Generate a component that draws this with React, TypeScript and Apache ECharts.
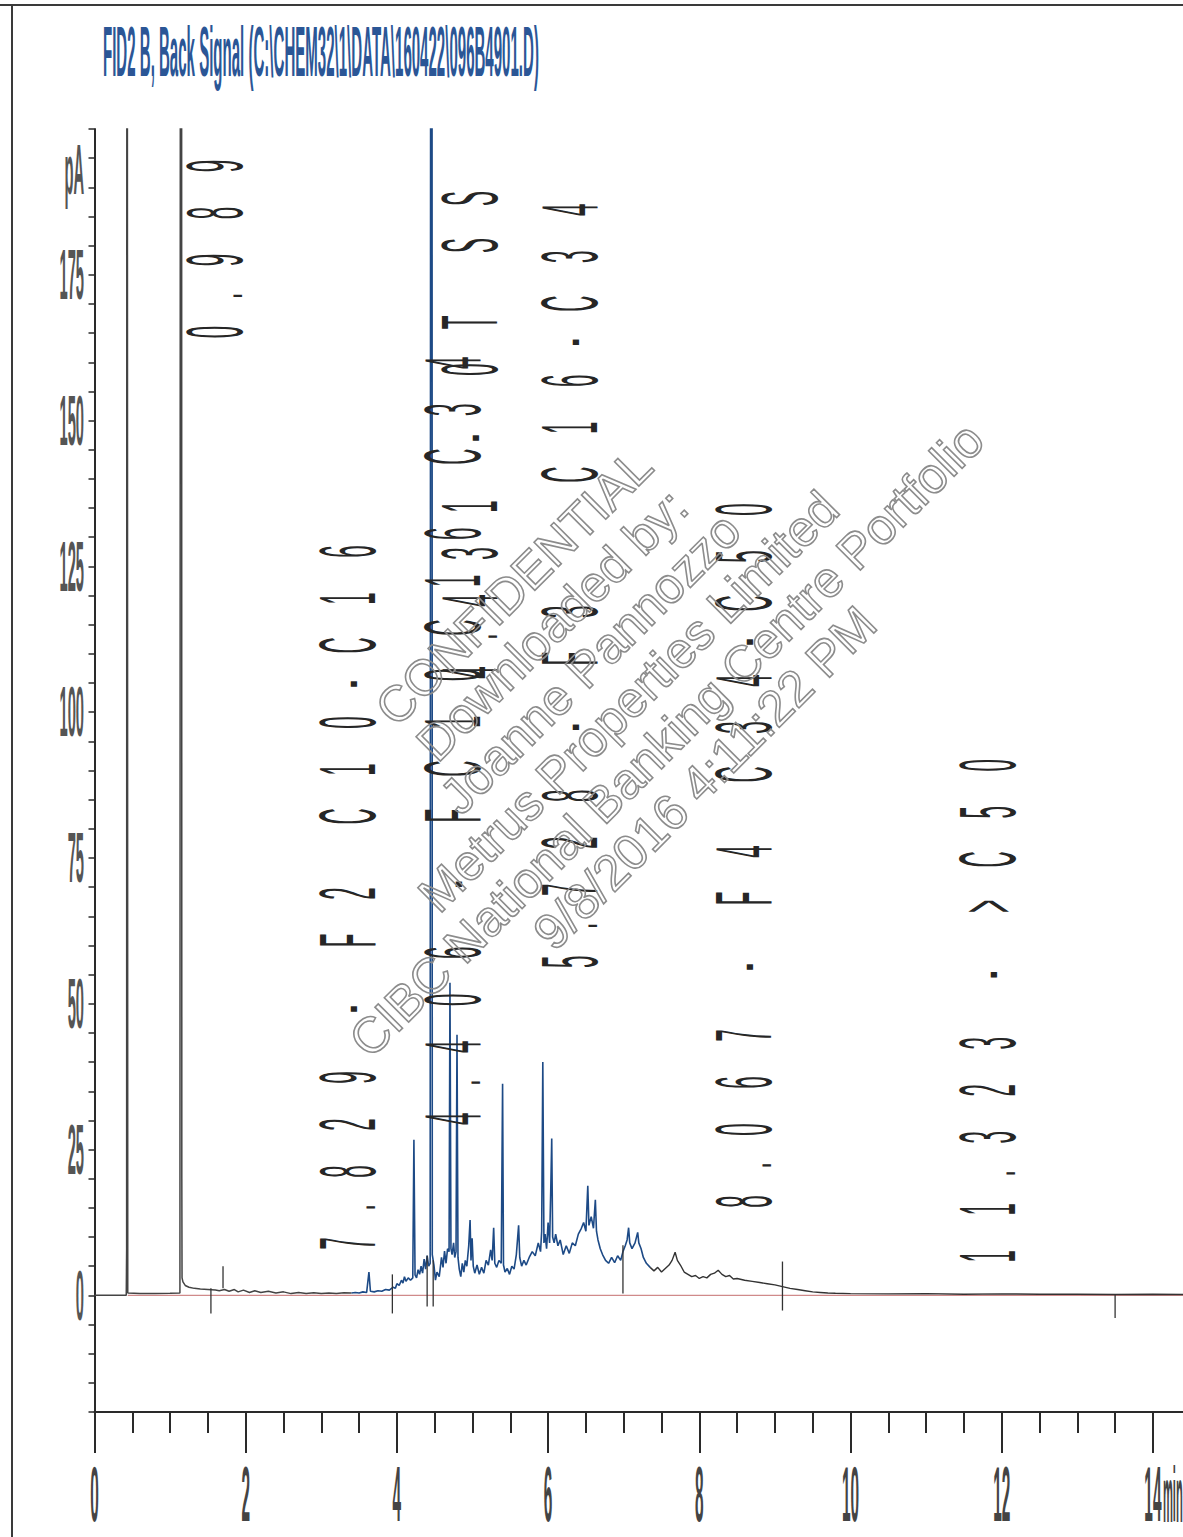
import React, { useEffect, useRef } from 'react';
import * as echarts from 'echarts';

const W = 1183;
const H = 1537;

const titleText = 'FID2 B, Back Signal (C:\\CHEM32\\1\\DATA\\160422\\096B4901.D)';

const yTickValues = [0, 25, 50, 75, 100, 125, 150, 175];
const yTickLabels = ['0', '25', '50', '75', '100', '125', '150', '175'];
const yUnitValue = 193;
const yUnitLabel = 'pA';
const xTickValues = [0, 2, 4, 6, 8, 10, 12, 14];
const xTickLabels = ['0', '2', '4', '6', '8', '10', '12', '14'];
const xUnitLabel = 'min';

// trace, min / pA
const traceEarly = [
  [0, 0], [0.42, 0], [0.425, 8], [0.43, 420], [0.436, 420], [0.44, 0.4],
  [0.6, 0.3], [0.8, 0.3], [1.0, 0.35], [1.13, 0.4], [1.14, 420], [1.15, 420],
  [1.155, 20], [1.158, 3.0], [1.17, 2.3], [1.2, 1.7], [1.25, 1.4], [1.32, 1.2],
  [1.4, 1.1], [1.5, 1.0], [1.6, 0.9], [1.65, 0.8], [1.72, 1.0], [1.78, 0.7],
  [1.85, 1.0], [1.9, 0.6], [1.97, 0.9], [2.05, 0.5], [2.12, 0.8], [2.2, 0.5],
  [2.3, 0.7], [2.4, 0.4], [2.5, 0.6], [2.6, 0.3], [2.7, 0.5], [2.8, 0.3],
  [2.9, 0.45], [3.0, 0.3], [3.1, 0.4], [3.2, 0.3], [3.3, 0.45], [3.4, 0.4]
];
const traceMid = [
  [3.4, 0.4], [3.45, 0.5], [3.5, 0.4], [3.55, 0.6], [3.6, 0.5], [3.63, 4.0],
  [3.65, 0.7], [3.7, 0.6], [3.75, 0.8], [3.8, 0.7], [3.85, 1.0], [3.9, 0.9],
  [3.95, 1.4], [3.98, 1.2], [4.0, 2.0], [4.03, 1.7], [4.06, 2.6], [4.08, 2.1],
  [4.1, 3.2], [4.12, 2.4], [4.15, 3.0], [4.18, 2.6], [4.21, 3.0], [4.225, 26.7],
  [4.24, 3.5], [4.26, 3.0], [4.28, 4.4], [4.3, 3.6], [4.32, 5.0], [4.34, 3.8],
  [4.36, 6.2], [4.38, 4.5], [4.4, 6.8], [4.42, 5.0], [4.44, 5.5], [4.452, 420],
  [4.462, 420], [4.468, 7.0], [4.49, 5.2], [4.51, 2.6], [4.53, 4.0], [4.56, 3.2],
  [4.59, 6.5], [4.61, 4.8], [4.63, 7.6], [4.65, 5.5], [4.67, 8.0], [4.69, 7.5],
  [4.702, 53.6], [4.715, 8.0], [4.73, 7.0], [4.75, 9.0], [4.765, 6.5], [4.782, 7.5],
  [4.795, 44.7], [4.808, 6.5], [4.825, 4.5], [4.845, 3.2], [4.865, 5.5], [4.885, 4.0],
  [4.905, 6.0], [4.925, 5.0], [4.95, 8.5], [4.968, 12.9], [4.98, 6.0], [4.995, 9.8],
  [5.01, 5.0], [5.03, 3.8], [5.06, 5.2], [5.09, 3.6], [5.12, 4.8], [5.15, 3.8],
  [5.18, 6.0], [5.21, 5.2], [5.24, 7.8], [5.26, 6.0], [5.28, 11.6], [5.295, 5.5],
  [5.32, 4.8], [5.35, 6.0], [5.38, 5.5], [5.398, 36.3], [5.41, 5.2], [5.43, 4.0],
  [5.46, 4.6], [5.49, 3.6], [5.52, 5.0], [5.55, 4.5], [5.58, 7.0], [5.61, 12.0],
  [5.625, 6.5], [5.65, 5.0], [5.68, 6.0], [5.71, 5.2], [5.75, 6.5], [5.79, 7.5],
  [5.83, 6.8], [5.87, 9.0], [5.9, 7.5], [5.915, 11.0], [5.93, 40.0], [5.945, 9.0],
  [5.96, 10.5], [5.98, 8.0], [6.0, 12.5], [6.02, 9.0], [6.035, 18.0], [6.048, 26.9],
  [6.06, 10.0], [6.08, 9.0], [6.1, 10.5], [6.13, 8.5], [6.16, 9.5], [6.2, 7.0],
  [6.24, 8.5], [6.28, 7.2], [6.32, 9.0], [6.36, 8.5], [6.4, 10.5], [6.44, 11.5],
  [6.47, 12.5], [6.5, 11.0], [6.525, 18.8], [6.54, 12.0], [6.57, 13.5], [6.6, 11.5],
  [6.625, 16.4], [6.64, 11.0], [6.66, 9.5], [6.69, 8.0], [6.72, 7.0], [6.76, 6.0],
  [6.8, 5.5], [6.84, 6.5], [6.88, 5.6], [6.92, 6.8], [6.96, 6.0], [6.99, 7.5],
  [7.02, 8.5], [7.045, 9.5], [7.065, 11.6], [7.08, 9.0], [7.11, 8.0], [7.15, 9.0],
  [7.185, 10.8], [7.2, 9.0], [7.23, 8.0], [7.26, 6.5], [7.3, 5.5], [7.35, 4.8]
];
const traceLate = [
  [7.35, 4.8], [7.4, 4.2], [7.45, 4.8], [7.5, 4.0], [7.55, 4.6], [7.6, 5.2],
  [7.64, 6.0], [7.68, 7.4], [7.71, 6.0], [7.75, 5.2], [7.8, 4.0], [7.85, 3.6],
  [7.9, 3.2], [7.95, 3.4], [8.0, 2.9], [8.05, 3.2], [8.1, 3.0], [8.15, 3.6],
  [8.2, 3.8], [8.25, 4.3], [8.3, 3.6], [8.35, 3.2], [8.4, 3.4], [8.45, 2.8],
  [8.5, 2.9], [8.6, 2.6], [8.7, 2.4], [8.8, 2.2], [8.9, 2.0], [9.0, 1.8],
  [9.1, 1.5], [9.2, 1.2], [9.3, 1.0], [9.4, 0.8], [9.5, 0.6], [9.6, 0.5],
  [9.7, 0.4], [9.8, 0.35], [10.0, 0.3], [10.5, 0.25], [11.0, 0.3], [11.5, 0.2],
  [12.0, 0.25], [12.5, 0.2], [13.0, 0.2], [13.5, 0.15], [14.0, 0.2], [14.4, 0.15]
];
const baselineStart = 0.44;
const baselineEnd = 16;

// integration tick marks: time, top, bottom (pA)
const eventTimes = [1.54, 1.7, 3.94, 4.4, 4.48, 6.99, 9.1, 13.5];
const eventTops = [1.2, 5.0, 3.6, 6.8, 6.0, 8.6, 5.8, 0.2];
const eventBottoms = [-3.1, 1.2, -3.1, -1.9, -1.9, 0.3, -2.6, -3.9];

// rotated peak / window annotations
const annoTexts = [
  '0.989',
  '7.829 - F2 C10-C16',
  '4.406 - FC10C16 C34',
  '4.431 - 0T SS',
  '5.728 - F3   C16-C34',
  '8.067 - F4 C34-C50',
  '11.323 - >C50'
];
const annoTimes = [1.2, 2.96, 4.345, 4.57, 5.89, 8.19, 11.42];
const annoStarts = [165.2, 8.9, 30.3, 106.8, 57.2, 16.1, 6.7];

const watermarkLines = [
  'CONFIDENTIAL',
  'Downloaded by:',
  'Joanne Pannozzo',
  'Metrus Properties Limited',
  'CIBC National Banking Centre Portfolio',
  '9/8/2016 4:11:22 PM'
];

function advanceOf(ch: string): number {
  if (ch === '.') return 25;
  if (ch === ' ') return 30;
  if (ch === '-') return 30;
  return 47;
}

function txtStyle(o: any) {
  const s: any = { ...o };
  if (o.align) s.textAlign = o.align;
  if (o.verticalAlign) s.textVerticalAlign = o.verticalAlign;
  return s;
}

export default function App() {
  const ref = useRef<HTMLDivElement>(null);
  useEffect(() => {
    if (!ref.current) return;
    const chart = echarts.init(ref.current, null, { renderer: 'svg', width: W, height: H });
    const option: any = {
      animation: false,
      backgroundColor: '#ffffff',
      grid: { left: 94.5, top: 129, width: 16 * 75.6, height: 1283, containLabel: false, outerBoundsMode: 'none' },
      xAxis: {
        type: 'value', min: 0, max: 16, interval: 2,
        axisLine: { show: true, onZero: false, lineStyle: { color: '#2a2a2a', width: 2 } },
        axisTick: { show: true, length: 41, lineStyle: { color: '#2a2a2a', width: 2 } },
        minorTick: { show: true, splitNumber: 4, length: 21, lineStyle: { color: '#2a2a2a', width: 2 } },
        axisLabel: { show: false },
        splitLine: { show: false }
      },
      yAxis: {
        type: 'value', min: -20, max: 200, interval: 5,
        axisLine: { show: true, onZero: false, lineStyle: { color: '#2a2a2a', width: 2 } },
        axisTick: { show: true, length: 6, lineStyle: { color: '#2a2a2a', width: 1.5 } },
        axisLabel: { show: false },
        splitLine: { show: false }
      },
      graphic: [
        { type: 'line', shape: { x1: 0, y1: 5, x2: W, y2: 5 }, style: { stroke: '#3a3a3a', lineWidth: 2 } },
        { type: 'line', shape: { x1: 12, y1: 5, x2: 12, y2: H }, style: { stroke: '#3a3a3a', lineWidth: 2 } },
        {
          type: 'text', x: 103, y: 52, scaleX: 0.215, scaleY: 1,
          style: txtStyle({ text: titleText, font: 'bold 70px "Liberation Sans"', fill: '#2b5696', align: 'left', verticalAlign: 'middle' })
        },
        {
          type: 'group', x: 609.5, y: 682.5, rotation: Math.PI / 4, z: 100,
          children: watermarkLines.map((t, i) => ({
            type: 'text', x: 0, y: (i - 2.5) * 54, z: 100,
            style: txtStyle({ text: t, font: '50px "Liberation Sans"', fill: 'rgba(255,255,255,0)', stroke: '#8c8c8c', lineWidth: 1.6, align: 'center', verticalAlign: 'middle' })
          }))
        }
      ],
      series: [
        {
          type: 'line', name: 'baseline', data: [[baselineStart, 0], [baselineEnd, 0]],
          showSymbol: false, symbol: 'none', lineStyle: { color: '#d08a8a', width: 1.2 }, z: 2
        },
        {
          type: 'line', name: 'early', data: traceEarly, showSymbol: false, symbol: 'none',
          lineStyle: { color: '#444444', width: 1.5 }, z: 3
        },
        {
          type: 'line', name: 'mid', data: traceMid, showSymbol: false, symbol: 'none',
          lineStyle: { color: '#1d4a86', width: 1.6 }, z: 3
        },
        {
          type: 'line', name: 'late', data: traceLate, showSymbol: false, symbol: 'none',
          lineStyle: { color: '#333333', width: 1.4 }, z: 3
        },
        {
          type: 'custom', name: 'events', clip: false, silent: true, z: 4,
          data: eventTimes.map((t, i) => [t, eventTops[i], eventBottoms[i]]),
          renderItem: (params: any, api: any) => {
            const a = api.coord([api.value(0), api.value(1)]);
            const b = api.coord([api.value(0), api.value(2)]);
            return { type: 'line', shape: { x1: a[0], y1: a[1], x2: b[0], y2: b[1] }, style: { stroke: '#333', lineWidth: 1.3 } };
          }
        },
        {
          type: 'custom', name: 'annotations', clip: false, silent: true, z: 5,
          data: annoTimes.map((t, i) => [t, annoStarts[i]]),
          renderItem: (params: any, api: any) => {
            const p = api.coord([api.value(0), api.value(1)]);
            const txt = annoTexts[params.dataIndex];
            const children: any[] = [];
            let y = p[1];
            let prevHalf = 0;
            for (let i = 0; i < txt.length; i++) {
              const ch = txt[i];
              const adv = advanceOf(ch);
              if (i > 0) y -= prevHalf + adv / 2;
              prevHalf = adv / 2;
              if (ch === ' ') continue;
              children.push({
                type: 'text', x: p[0] + 29, y, rotation: Math.PI / 2, scaleX: 0.28, scaleY: 1,
                style: txtStyle({ text: ch, font: '80px "Liberation Sans"', fill: '#262626', align: 'center', verticalAlign: 'middle' })
              });
            }
            return { type: 'group', children };
          }
        },
        {
          type: 'custom', name: 'yLabels', clip: false, silent: true, z: 5,
          data: yTickValues.map((v) => [0, v]),
          renderItem: (params: any, api: any) => {
            const p = api.coord([api.value(0), api.value(1)]);
            return {
              type: 'text', x: p[0] - 10.5, y: p[1], scaleX: 0.21, scaleY: 1,
              style: txtStyle({ text: yTickLabels[params.dataIndex], font: 'bold 70px "Liberation Sans"', fill: '#555555', align: 'right', verticalAlign: 'middle' })
            };
          }
        },
        {
          type: 'custom', name: 'yUnit', clip: false, silent: true, z: 5,
          data: [[0, yUnitValue]],
          renderItem: (params: any, api: any) => {
            const p = api.coord([api.value(0), api.value(1)]);
            return {
              type: 'text', x: p[0] - 10.5, y: p[1], scaleX: 0.21, scaleY: 1,
              style: txtStyle({ text: yUnitLabel, font: 'bold 70px "Liberation Sans"', fill: '#555555', align: 'right', verticalAlign: 'middle' })
            };
          }
        },
        {
          type: 'custom', name: 'xLabels', clip: false, silent: true, z: 5,
          data: xTickValues.map((v) => [v, -20]),
          renderItem: (params: any, api: any) => {
            const p = api.coord([api.value(0), api.value(1)]);
            const children: any[] = [{
              type: 'text', x: p[0], y: p[1] + 83, scaleX: 0.2, scaleY: 1,
              style: txtStyle({ text: xTickLabels[params.dataIndex], font: 'bold 77px "Liberation Sans"', fill: '#444444', align: 'center', verticalAlign: 'middle' })
            }];
            if (params.dataIndex === xTickValues.length - 1) {
              children.push({
                type: 'text', x: p[0] + 10, y: p[1] + 83, scaleX: 0.145, scaleY: 1,
                style: txtStyle({ text: xUnitLabel, font: 'bold 77px "Liberation Sans"', fill: '#444444', align: 'left', verticalAlign: 'middle' })
              });
            }
            return { type: 'group', children };
          }
        }
      ]
    };
    chart.setOption(option);
    return () => chart.dispose();
  }, []);
  return <div ref={ref} style={{ position: 'absolute', left: 0, top: 0, width: W, height: H, background: '#fff' }} />;
}
